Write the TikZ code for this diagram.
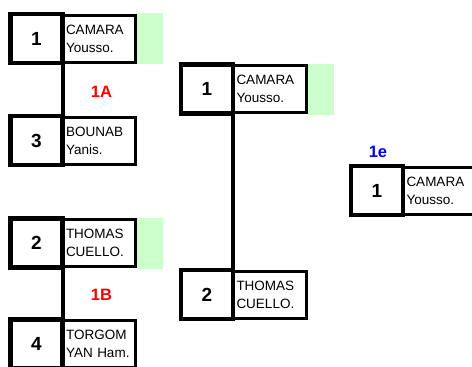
\documentclass[tikz,border=0pt]{standalone}
\usepackage{fontspec}
\setmainfont{Liberation Sans}
\definecolor{wingreen}{RGB}{204,255,204}
\definecolor{lblred}{RGB}{255,0,0}
\definecolor{lblblue}{RGB}{0,0,255}
\begin{document}
\begin{tikzpicture}[x=1pt,y=1pt,
  numbox/.style={draw, line width=4.5pt, outer sep=0pt, minimum width=52pt, minimum height=49pt, inner sep=0pt, font=\fontsize{19}{19}\selectfont\bfseries},
  namebox/.style={draw, line width=3pt, outer sep=0pt, minimum width=73pt, minimum height=47pt, text width=66pt, inner xsep=3.5pt, inner ysep=0pt, align=left, anchor=west, font=\fontsize{13.5}{18}\selectfont},
  winbox/.style={fill=wingreen, outer sep=0pt, minimum width=26pt, minimum height=51pt, inner sep=0pt, anchor=west, xshift=1.5pt},
  link/.style={line width=4pt},
  lbl/.style={font=\fontsize{16.5}{16.5}\selectfont\bfseries}]
\useasboundingbox (0,0) rectangle (472,-367);
% left column
\node[numbox] (L1n) at (36.5,-38.5) {1};
\node[namebox] (L1t) at (L1n.east) {CAMARA\\Yousso.};
\node[winbox] (L1w) at (L1t.east) {};
\node[numbox] (L3n) at (36.5,-140.5) {3};
\node[namebox] (L3t) at (L3n.east) {BOUNAB\\Yanis.};
\node[numbox] (L2n) at (36.5,-243) {2};
\node[namebox] (L2t) at (L2n.east) {THOMAS\\CUELLO.};
\node[winbox] (L2w) at (L2t.east) {};
\node[numbox] (L4n) at (36.5,-344) {4};
\node[namebox] (L4t) at (L4n.east) {TORGOM\\YAN Ham.};
% middle column
\node[numbox] (M1n) at (207,-89) {1};
\node[namebox] (M1t) at (M1n.east) {CAMARA\\Yousso.};
\node[winbox] (M1w) at (M1t.east) {};
\node[numbox] (M2n) at (207,-294.5) {2};
\node[namebox] (M2t) at (M2n.east) {THOMAS\\CUELLO.};
% right column
\node[numbox] (R1n) at (377,-190.5) {1};
\node[namebox] (R1t) at (R1n.east) {CAMARA\\Yousso.};
% connectors
\draw[link] (L1n.south east) -- (L3n.north east);
\draw[link] (L2n.south east) -- (L4n.north east);
\draw[link] (M1n.south east) -- (M2n.north east);
% labels
\node[lbl, text=lblred] (A) at (101.5,-92) {1A};
\node[lbl, text=lblred] (B) at (101.5,-295) {1B};
\node[lbl, text=lblblue] (E) at (378,-152) {1e};
\end{tikzpicture}
\end{document}
